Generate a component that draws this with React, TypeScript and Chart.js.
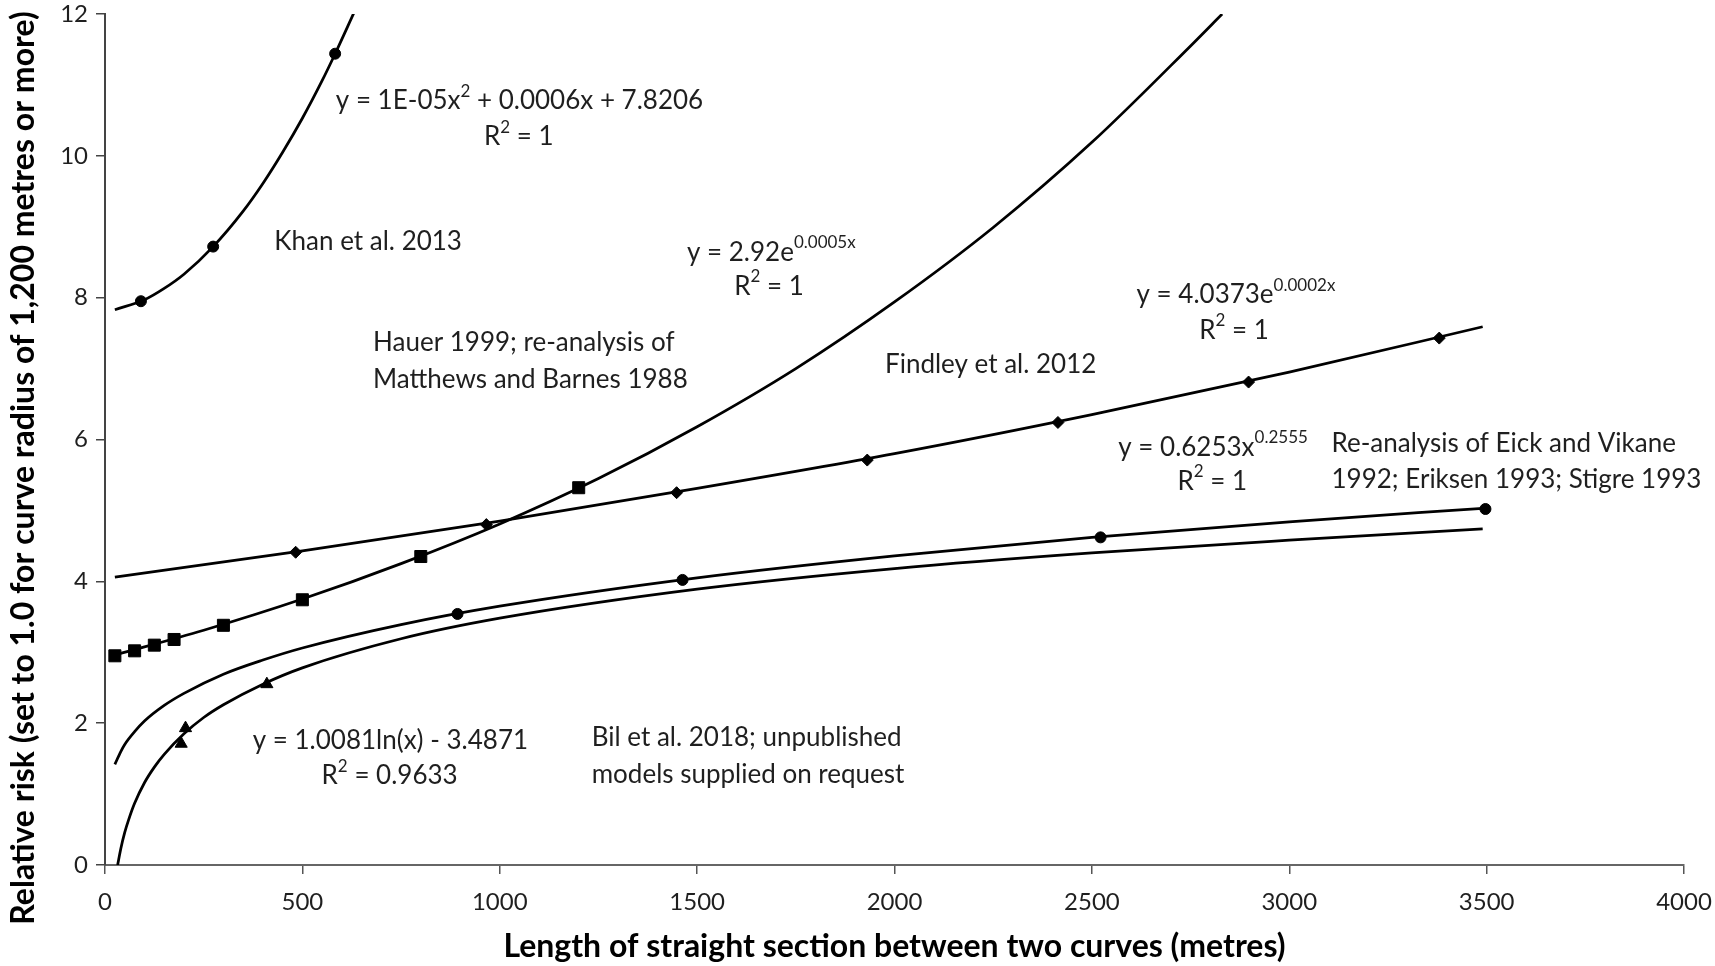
import React, { useEffect, useRef } from "react";
import { Chart, registerables } from "chart.js";

Chart.register(...registerables);

// ---- Observed points ----
const khanX = [91, 274, 583];
const khanY = [7.95, 8.72, 11.44];
const hauerX = [25, 75, 125, 175, 300, 500, 800, 1200];
const hauerY = [2.95, 3.02, 3.1, 3.18, 3.38, 3.74, 4.35, 5.32];
const findleyX = [483, 966, 1448, 1931, 2414, 2897, 3380];
const findleyY = [4.41, 4.8, 5.25, 5.71, 6.24, 6.81, 7.43];
const eickX = [893, 1463, 2522, 3497];
const eickY = [3.54, 4.02, 4.62, 5.02];
const bilX = [193, 204, 410];
const bilY = [1.71, 1.93, 2.55];

// ---- Trendlines ----
const khanTrendX = [25, 100, 150, 200, 274, 350, 400, 450, 500, 550, 583, 630];
const khanTrendY = [7.83, 7.97, 8.13, 8.33, 8.72, 9.22, 9.61, 10.05, 10.53, 11.06, 11.44, 12.01];
const hauerTrendX = [25, 250, 500, 750, 1000, 1250, 1500, 1750, 2000, 2250, 2500, 2750, 2830];
const hauerTrendY = [2.96, 3.31, 3.75, 4.25, 4.81, 5.45, 6.18, 7.0, 7.94, 8.99, 10.19, 11.55, 12.0];
const findleyTrendX = [25, 500, 1000, 1500, 2000, 2500, 3000, 3490];
const findleyTrendY = [4.06, 4.43, 4.85, 5.31, 5.8, 6.35, 6.95, 7.59];
const eickTrendX = [25, 40, 50, 75, 100, 150, 200, 300, 400, 500, 750, 1000, 1500, 2000, 2500, 3000, 3490];
const eickTrendY = [1.42, 1.6, 1.7, 1.88, 2.03, 2.25, 2.42, 2.69, 2.89, 3.06, 3.39, 3.65, 4.05, 4.36, 4.62, 4.84, 5.03];
const bilTrendX = [32, 40, 50, 60, 75, 100, 125, 150, 200, 250, 300, 400, 500, 750, 1000, 1500, 2000, 2500, 3000, 3490];
const bilTrendY = [0.0, 0.23, 0.46, 0.64, 0.87, 1.16, 1.38, 1.56, 1.85, 2.08, 2.26, 2.55, 2.78, 3.19, 3.48, 3.89, 4.18, 4.4, 4.58, 4.74];

// ---- Axis ----
const xMin = 0, xMax = 4000, xStep = 500;
const yMin = 0, yMax = 12, yStep = 2;
const xTitle = "Length of straight section between two curves (metres)";
const yTitle = "Relative risk (set to 1.0 for curve radius of 1,200 metres or more)";

// ---- Text annotations (anchored in data units) ----
type Part = [string, boolean?];
type Note = { x: number; y: number; align: "left" | "center"; parts: Part[] };
const notes: Note[] = [
  { x: 1050, y: 10.78, align: "center", parts: [["y = 1E-05x"], ["2", true], [" + 0.0006x + 7.8206"]] },
  { x: 1048, y: 10.27, align: "center", parts: [["R"], ["2", true], [" = 1"]] },
  { x: 429, y: 8.79, align: "left", parts: [["Khan et al. 2013"]] },
  { x: 1688, y: 8.64, align: "center", parts: [["y = 2.92e"], ["0.0005x", true]] },
  { x: 1682, y: 8.16, align: "center", parts: [["R"], ["2", true], [" = 1"]] },
  { x: 679, y: 7.36, align: "left", parts: [["Hauer 1999; re-analysis of"]] },
  { x: 679, y: 6.85, align: "left", parts: [["Matthews and Barnes 1988"]] },
  { x: 1976, y: 7.06, align: "left", parts: [["Findley et al. 2012"]] },
  { x: 2865, y: 8.04, align: "center", parts: [["y = 4.0373e"], ["0.0002x", true]] },
  { x: 2860, y: 7.54, align: "center", parts: [["R"], ["2", true], [" = 1"]] },
  { x: 2807, y: 5.89, align: "center", parts: [["y = 0.6253x"], ["0.2555", true]] },
  { x: 2805, y: 5.41, align: "center", parts: [["R"], ["2", true], [" = 1"]] },
  { x: 3107, y: 5.94, align: "left", parts: [["Re-analysis of Eick and Vikane"]] },
  { x: 3107, y: 5.43, align: "left", parts: [["1992; Eriksen 1993; Stigre 1993"]] },
  { x: 723, y: 1.76, align: "center", parts: [["y = 1.0081ln(x) - 3.4871"]] },
  { x: 721, y: 1.26, align: "center", parts: [["R"], ["2", true], [" = 0.9633"]] },
  { x: 1233, y: 1.79, align: "left", parts: [["Bil et al. 2018; unpublished"]] },
  { x: 1233, y: 1.28, align: "left", parts: [["models supplied on request"]] },
];

const FONT = "Lato, 'Open Sans', sans-serif";
const TEXT = "#1f1f1f";
const NOTE_SIZE = 26;

const pts = (xs: number[], ys: number[]) => xs.map((x, i) => ({ x, y: ys[i] }));

const notesPlugin = {
  id: "notes",
  afterDraw(chart: any) {
    const { ctx, scales, chartArea } = chart;
    const xs = scales.x;
    const ys = scales.y;
    ctx.save();
    ctx.fillStyle = TEXT;
    ctx.textBaseline = "middle";
    ctx.textAlign = "left";
    for (const n of notes) {
      const px = xs.getPixelForValue(n.x);
      const py = ys.getPixelForValue(n.y);
      const widths = n.parts.map(([t, sup]) => {
        ctx.font = `${sup ? Math.round(NOTE_SIZE * 0.66) : NOTE_SIZE}px ${FONT}`;
        return ctx.measureText(t).width;
      });
      const total = widths.reduce((a, b) => a + b, 0);
      let cx = n.align === "center" ? px - total / 2 : px;
      n.parts.forEach(([t, sup], i) => {
        ctx.font = `${sup ? Math.round(NOTE_SIZE * 0.66) : NOTE_SIZE}px ${FONT}`;
        ctx.fillText(t, cx, sup ? py - NOTE_SIZE * 0.36 : py);
        cx += widths[i];
      });
    }
    // axis titles
    ctx.fillStyle = "#000";
    ctx.font = `bold 32px ${FONT}`;
    ctx.textAlign = "center";
    ctx.fillText(xTitle, (chartArea.left + chartArea.right) / 2, 947);
    ctx.translate(24, 468);
    ctx.rotate(-Math.PI / 2);
    ctx.fillText(yTitle, 0, 0);
    ctx.restore();
  },
};

export default function App() {
  const ref = useRef<HTMLCanvasElement | null>(null);
  useEffect(() => {
    document.body.style.margin = "0";
    const canvas = ref.current;
    if (!canvas) return;
    const line = (xs: number[], ys: number[]) => ({
      data: pts(xs, ys),
      showLine: true,
      borderColor: "#000",
      borderWidth: 2.75,
      pointRadius: 0,
      cubicInterpolationMode: "monotone" as const,
      fill: false,
    });
    const marks = (xs: number[], ys: number[], style: string, r: number) => ({
      data: pts(xs, ys),
      showLine: false,
      pointStyle: style,
      pointRadius: r,
      backgroundColor: "#000",
      borderColor: "#000",
      borderWidth: 1,
    });
    const chart = new Chart(canvas, {
      type: "scatter",
      data: {
        datasets: [
          line(khanTrendX, khanTrendY),
          line(hauerTrendX, hauerTrendY),
          line(findleyTrendX, findleyTrendY),
          line(eickTrendX, eickTrendY),
          line(bilTrendX, bilTrendY),
          marks(khanX, khanY, "circle", 5.5),
          marks(hauerX, hauerY, "rect", 8.5),
          marks(findleyX, findleyY, "rectRot", 6),
          marks(eickX, eickY, "circle", 5.5),
          marks(bilX, bilY, "triangle", 7),
        ] as any,
      },
      options: {
        responsive: false,
        animation: false,
        devicePixelRatio: 1,
        layout: { padding: { left: 0, right: 31, top: 14, bottom: 0 } },
        plugins: { legend: { display: false }, tooltip: { enabled: false } },
        scales: {
          x: {
            type: "linear",
            min: xMin,
            max: xMax,
            ticks: {
              stepSize: xStep,
              color: TEXT,
              font: { family: FONT, size: 24 },
              padding: 14,
              maxRotation: 0,
              callback: (v: any) => String(v),
            },
            grid: { display: true, drawOnChartArea: false, drawTicks: true, tickLength: 9, color: "#555", lineWidth: 1.5 },
            border: { display: true, color: "#666", width: 2 },
            afterFit: (s: any) => {
              s.height = 101;
              s.paddingLeft = 0;
              s.paddingRight = 0;
            },
          },
          y: {
            type: "linear",
            min: yMin,
            max: yMax,
            ticks: { stepSize: yStep, color: TEXT, font: { family: FONT, size: 24 }, padding: 8 },
            grid: { display: true, drawOnChartArea: false, drawTicks: true, tickLength: 9, color: "#444", lineWidth: 1.5 },
            border: { display: true, color: "#444", width: 2 },
            afterFit: (s: any) => {
              s.width = 105;
              s.paddingTop = 0;
              s.paddingBottom = 0;
            },
          },
        },
      },
      plugins: [notesPlugin],
    });
    return () => chart.destroy();
  }, []);
  return (
    <div style={{ width: 1715, height: 966, background: "#fff" }}>
      <canvas ref={ref} width={1715} height={966} style={{ display: "block" }} />
    </div>
  );
}
